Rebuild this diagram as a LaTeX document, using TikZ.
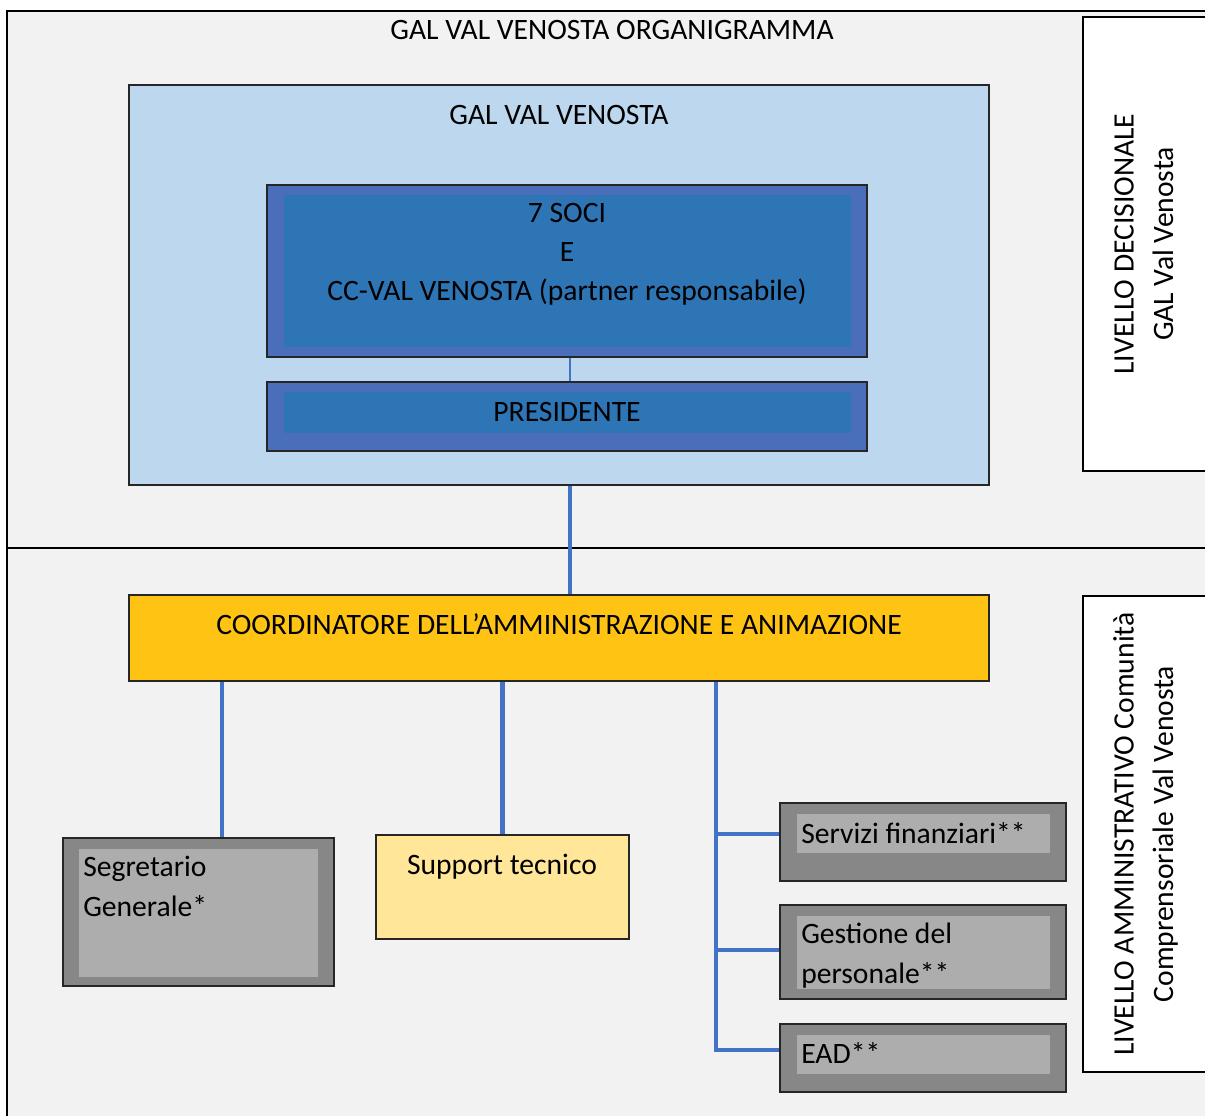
\documentclass[tikz,border=0pt]{standalone}
\usepackage{fontspec}
\setmainfont{Carlito}
\usetikzlibrary{fit}
\definecolor{bgrey}{HTML}{F2F2F2}
\definecolor{lblue}{HTML}{BDD7EE}
\definecolor{mblue}{HTML}{4A6EBA}
\definecolor{dblue}{HTML}{2E75B6}
\definecolor{conncol}{HTML}{4472C4}
\definecolor{orng}{HTML}{FFC314}
\definecolor{lyel}{HTML}{FFE699}
\definecolor{gout}{HTML}{878787}
\definecolor{gin}{HTML}{ADADAD}
\definecolor{edge}{HTML}{262626}
\begin{document}
\begin{tikzpicture}[x=0.75pt,y=-0.75pt,
  txt/.style={font=\fontsize{22.2}{29.6}\selectfont, inner sep=0pt, text=black},
  frame/.style={draw=black, line width=1.6pt},
  levelbox/.style={draw=black, line width=1.1pt, fill=white, inner sep=0pt},
  bigbox/.style={draw=edge, line width=0.8pt, inner sep=0pt},
  fillbox/.style={inner sep=0pt, draw=none},
  conn/.style={draw=conncol, line width=3.4pt},
  thinconn/.style={draw=conncol, line width=0.8pt}]
\useasboundingbox (0,0) rectangle (1205,1115);
\clip (0,0) rectangle (1205,1115);
% background frame
\fill[white] (0,0) rectangle (1205,1115);
\fill[bgrey] (7,11) rectangle (1215,1125);
\draw[frame] (7,1125) -- (7,11) -- (1215,11);
\draw[frame] (7,548) -- (1215,548);
\node[txt, anchor=base] (title) at (612,39) {GAL VAL VENOSTA ORGANIGRAMMA};

% level boxes
\node[levelbox, fit={(1083,17)(1212,471)}] (lev1) {};
\node[txt, rotate=90, align=center] (lev1t) at (1145.4,244) {\strut LIVELLO DECISIONALE\\\strut GAL Val Venosta};
\node[levelbox, fit={(1083,596)(1212,1072)}] (lev2) {};
\node[txt, rotate=90, align=center] (lev2t) at (1145.4,834) {\strut LIVELLO AMMINISTRATIVO Comunità\\\strut Comprensoriale Val Venosta};

% GAL box
\node[bigbox, fill=lblue, fit={(129,85)(989,485)}] (gal) {};
\node[txt, anchor=base] (galt) at (559,124) {GAL VAL VENOSTA};

\node[bigbox, fill=mblue, fit={(267,185)(867,357)}] (soci) {};
\node[fillbox, fill=dblue, fit={(284,195)(851,347)}] (socii) {};
\node[txt, align=center] (socit) at (567,253.6) {\strut 7 SOCI\\\strut E\\\strut CC-VAL VENOSTA (partner responsabile)};

\node[bigbox, fill=mblue, fit={(267,382)(867,451)}] (pres) {};
\node[fillbox, fill=dblue, fit={(284,392)(851,433)}] (presi) {};
\node[txt, anchor=base] (prest) at (567,421) {PRESIDENTE};
\draw[thinconn] (soci.south -| 570,0) -- (pres.north -| 570,0);

% coordinator
\node[bigbox, fill=orng, fit={(129,595)(989,681)}] (coord) {};
\node[txt, anchor=base] (coordt) at (559,634) {COORDINATORE DELL’AMMINISTRAZIONE E ANIMAZIONE};
\draw[conn] (gal.south -| 570,0) -- (coord.north -| 570,0);

% Segretario
\node[bigbox, fill=gout, fit={(63,838)(334,986)}] (seg) {};
\node[fillbox, fill=gin, fit={(79,849)(318,977)}] (segi) {};
\node[txt, align=left, anchor=west] (segt) at (83,888.7) {\strut Segretario\\\strut Generale*};

% Support
\node[bigbox, fill=lyel, fit={(376,835)(629,939)}] (sup) {};
\node[txt, anchor=base] (supt) at (502,874) {Support tecnico};

% Servizi
\node[bigbox, fill=gout, fit={(780,803)(1066,881)}] (serv) {};
\node[fillbox, fill=gin, fit={(797,814)(1050,853)}] (servi) {};
\node[txt, anchor=base west] (servt) at (801,843) {Servizi finanziari**};

% Gestione
\node[bigbox, fill=gout, fit={(780,905)(1066,999)}] (gest) {};
\node[fillbox, fill=gin, fit={(797,916)(1050,989)}] (gesti) {};
\node[txt, align=left, anchor=west] (gestt) at (801,955.4) {\strut Gestione del\\\strut personale**};

% EAD
\node[bigbox, fill=gout, fit={(780,1024)(1066,1092)}] (ead) {};
\node[fillbox, fill=gin, fit={(797,1035)(1050,1074)}] (eadi) {};
\node[txt, anchor=base west] (eadt) at (801,1063) {EAD**};

% connectors
\draw[conn] (coord.south -| 222,0) -- (seg.north -| 222,0);
\draw[conn] (coord.south -| sup.north) -- (sup.north);
\coordinate (trunktop) at (coord.south -| 716,0);
\coordinate (trunkbot) at (716,1050);
\draw[conn] (trunktop) -- (trunkbot) -- (ead.west |- trunkbot);
\draw[conn] (716,834) -- (serv.west |- 0,834);
\draw[conn] (716,950) -- (gest.west |- 0,950);
\end{tikzpicture}
\end{document}
